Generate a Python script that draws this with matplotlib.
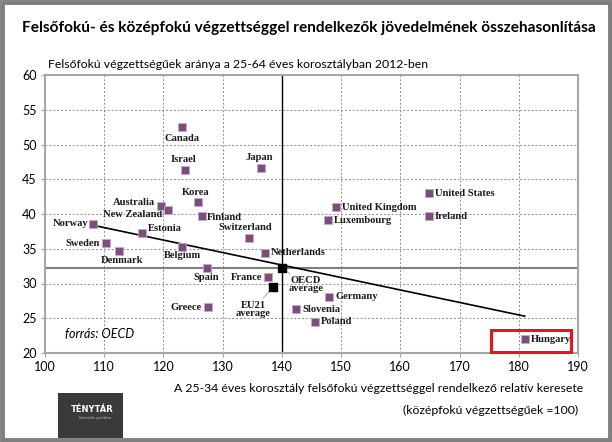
import matplotlib
matplotlib.use("Agg")
import matplotlib.pyplot as plt
from matplotlib.patches import Rectangle

countries = ["Canada", "Israel", "Japan", "Korea", "Australia", "New Zealand", "Finland",
             "Estonia", "Norway", "Sweden", "Denmark", "Belgium", "Switzerland", "Netherlands",
             "Spain", "France", "Greece", "Slovenia", "Poland", "Germany", "United Kingdom",
             "Luxembourg", "United States", "Ireland", "Hungary"]
rel_earnings = [123.1, 123.6, 136.5, 125.8, 119.6, 120.8, 126.5,
                116.4, 108.1, 110.3, 112.5, 123.1, 134.4, 137.1,
                127.3, 137.6, 127.5, 142.4, 145.6, 148.0, 149.1,
                147.8, 164.8, 164.8, 181.0]
tertiary_share = [52.5, 46.3, 46.6, 41.7, 41.2, 40.6, 39.7,
                  37.3, 38.6, 35.8, 34.7, 35.3, 36.5, 34.4,
                  32.2, 30.9, 26.6, 26.3, 24.5, 28.1, 41.0,
                  39.1, 43.0, 39.7, 22.0]
avg_names = ["OECD\naverage", "EU21\naverage"]
avg_x = [140.0, 138.5]
avg_y = [32.2, 29.5]
trend_x = [108.0, 181.0]
trend_y = [38.4, 25.3]
oecd_ref_x = 140.0
oecd_ref_y = 32.2
x_ticks = list(range(100, 191, 10))
y_ticks = list(range(20, 61, 5))

# label placement: (dx, dy pixels, ha, va)
placement = {
    "Canada": (0, -7, "center", "top"),
    "Israel": (-1, 6, "center", "bottom"),
    "Japan": (-2, 6, "center", "bottom"),
    "Korea": (-2, 5, "center", "bottom"),
    "Australia": (-6, 3, "right", "center"),
    "New Zealand": (-6, -5, "right", "center"),
    "Finland": (5, -1, "left", "center"),
    "Estonia": (6, 4, "left", "center"),
    "Norway": (-5, 0, "right", "center"),
    "Sweden": (-6, 0, "right", "center"),
    "Denmark": (-18, -5, "left", "top"),
    "Belgium": (1, -4, "center", "top"),
    "Switzerland": (-3, 6, "center", "bottom"),
    "Netherlands": (6, 0, "left", "center"),
    "Spain": (0, -5, "center", "top"),
    "France": (-5, 0, "right", "center"),
    "Greece": (-6, 0, "right", "center"),
    "Slovenia": (6, 0, "left", "center"),
    "Poland": (6, 0, "left", "center"),
    "Germany": (6, 0, "left", "center"),
    "United Kingdom": (6, 0, "left", "center"),
    "Luxembourg": (6, 0, "left", "center"),
    "United States": (6, 0, "left", "center"),
    "Ireland": (6, 0, "left", "center"),
    "Hungary": (6, 0, "left", "center"),
}

SANS = "Lato"

fig = plt.figure(figsize=(6.12, 4.42), dpi=100)
fig.patch.set_facecolor("white")
# outer frame
fig.add_artist(Rectangle((0.003, 0.004), 0.994, 0.992, transform=fig.transFigure,
                         fill=False, edgecolor="#7f7f7f", linewidth=3.5))

ax = fig.add_axes([45/612, 1-353/442, (578-45)/612, (353-75)/442])
ax.set_xlim(100, 190)
ax.set_ylim(20, 60)
ax.set_xticks(x_ticks)
ax.set_yticks(y_ticks)
ax.grid(True, color="#8c8c8c", linestyle=(0, (2, 2)), linewidth=0.7)
for s in ax.spines.values():
    s.set_color("#a6a6a6")
    s.set_linewidth(1.5)
ax.tick_params(axis="both", length=3, color="#a6a6a6", labelsize=9, pad=3)
for lab in ax.get_xticklabels() + ax.get_yticklabels():
    lab.set_fontfamily(SANS)

ax.axvline(oecd_ref_x, color="black", linewidth=1.0, zorder=2)
ax.axhline(oecd_ref_y, color="#7f7f7f", linewidth=1.5, zorder=2)
ax.plot(trend_x, trend_y, color="black", linewidth=1.2, zorder=3)

ax.scatter(rel_earnings, tertiary_share, marker="s", s=30, color="#7d4e7d",
           edgecolors="#c8a8c8", linewidths=0.6, zorder=4)
ax.scatter(avg_x, avg_y, marker="s", s=36, color="black", zorder=5)

lab_font = dict(family="Liberation Serif", fontsize=7.6, fontweight="bold", color="#1a1a1a")
for name, xv, yv in zip(countries, rel_earnings, tertiary_share):
    dx, dy, ha, va = placement[name]
    ax.annotate(name, (xv, yv), xytext=(dx, dy), textcoords="offset pixels",
                ha=ha, va=va, **lab_font)

# averages with leader lines
ax.annotate(avg_names[0], (avg_x[0], avg_y[0]), xytext=(24, -8), textcoords="offset pixels",
            ha="center", va="top", linespacing=0.85,
            arrowprops=dict(arrowstyle="-", color="#999999", lw=0.6, shrinkA=0, shrinkB=3),
            **lab_font)
ax.annotate(avg_names[1], (avg_x[1], avg_y[1]), xytext=(-20, -14), textcoords="offset pixels",
            ha="center", va="top", linespacing=0.85,
            arrowprops=dict(arrowstyle="-", color="#999999", lw=0.6, shrinkA=0, shrinkB=3),
            **lab_font)

# Hungary highlight
ax.add_patch(Rectangle((175.3, 20.15), 13.5, 3.15, fill=False, edgecolor="#e8141c",
                       linewidth=2.2, zorder=6, clip_on=False))

ax.text(103.3, 22.7, "forrás: OECD", fontsize=9, style="italic", family=SANS,
        ha="left", va="center")

fig.text(22/612, 1-28/442, "Felsőfokú- és középfokú végzettséggel rendelkezők jövedelmének összehasonlítása",
         fontsize=11.1, fontweight="bold", family=SANS, ha="left", va="center")
fig.text(48/612, 1-65/442, "Felsőfokú végzettségűek aránya a 25-64 éves korosztályban 2012-ben",
         fontsize=8.8, family=SANS, ha="left", va="center")
fig.text(583/612, 1-388/442, "A 25-34 éves korosztály felsőfokú végzettséggel rendelkező relatív keresete",
         fontsize=8.8, family=SANS, ha="right", va="center")
fig.text(578/612, 1-410/442, "(középfokú végzettségűek =100)",
         fontsize=8.8, family=SANS, ha="right", va="center")

# logo block
fig.add_artist(Rectangle((58/612, 1-438/442), 65/612, 45/442, transform=fig.transFigure,
                         facecolor="#3a3a3a", edgecolor="none"))
fig.text(92/612, 1-409/442, "TÉNYTÁR", fontsize=6, fontweight="bold", color="white",
         family="DejaVu Sans", ha="center", va="center")
fig.text(95/612, 1-418/442, "liberális politika", fontsize=3, color="#bbbbbb",
         family="DejaVu Sans", ha="center", va="center")

fig.savefig("out.png", dpi=100)
